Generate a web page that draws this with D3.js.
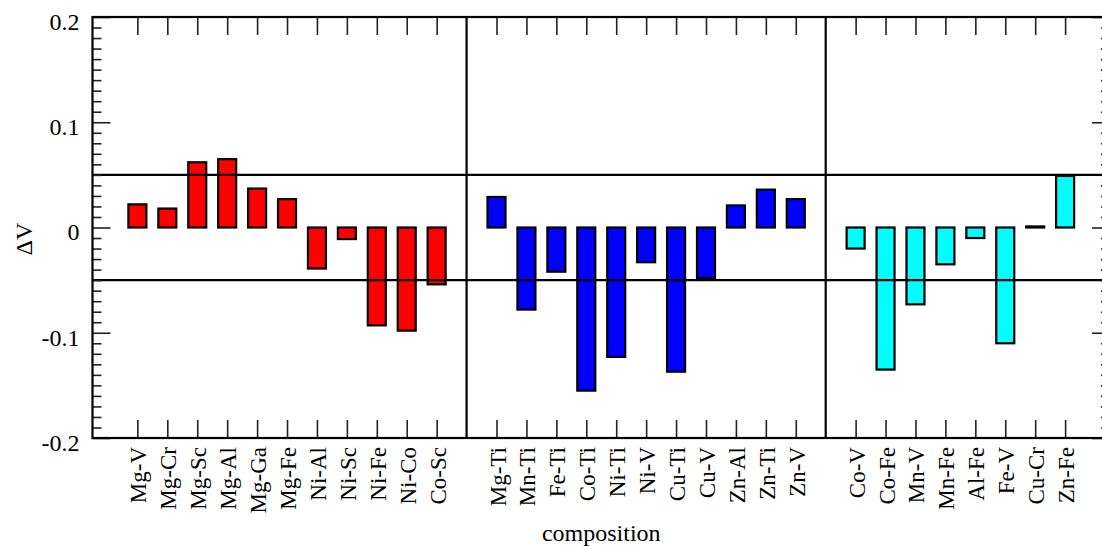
<!DOCTYPE html>
<html>
<head>
<meta charset="utf-8">
<script src="https://cdn.jsdelivr.net/npm/d3@7"></script>
<style>
  html, body { margin: 0; padding: 0; background: #fff; }
  svg { display: block; }
  text { font-family: "Liberation Serif", "Times New Roman", serif; fill: #000; }
</style>
</head>
<body>
<svg id="chart" width="1102" height="547"></svg>
<script>
// Volume change ΔV per binary composition, in three families
const groupA = ["Mg-V", "Mg-Cr", "Mg-Sc", "Mg-Al", "Mg-Ga", "Mg-Fe", "Ni-Al", "Ni-Sc", "Ni-Fe", "Ni-Co", "Co-Sc"];
const valuesA = [0.022, 0.018, 0.062, 0.065, 0.037, 0.027, -0.039, -0.011, -0.093, -0.098, -0.054];

const groupB = ["Mg-Ti", "Mn-Ti", "Fe-Ti", "Co-Ti", "Ni-Ti", "Ni-V", "Cu-Ti", "Cu-V", "Zn-Al", "Zn-Ti", "Zn-V"];
const valuesB = [0.029, -0.078, -0.042, -0.155, -0.123, -0.033, -0.137, -0.048, 0.021, 0.036, 0.027];

const groupC = ["Co-V", "Co-Fe", "Mn-V", "Mn-Fe", "Al-Fe", "Fe-V", "Cu-Cr", "Zn-Fe"];
const valuesC = [-0.020, -0.135, -0.073, -0.035, -0.010, -0.110, 0.001, 0.049];

const groupColors = ["#ff0000", "#0000ff", "#00ffff"];

const yTickValues = [-0.2, -0.1, 0, 0.1, 0.2];
const yTickLabels = ["-0.2", "-0.1", "0", "0.1", "0.2"];
const thresholdLines = [0.05, -0.05];

const xTitle = "composition";
const yTitle = "ΔV";

// Lay the groups out on one index axis, leaving an empty slot between groups
const groups = [
  { names: groupA, values: valuesA },
  { names: groupB, values: valuesB },
  { names: groupC, values: valuesC }
];
const bars = [];
const separators = [];
let slot = 0;
groups.forEach((g, gi) => {
  if (gi > 0) { separators.push(slot); slot += 1; }
  g.names.forEach((name, i) => {
    bars.push({ name, value: g.values[i], slot, color: groupColors[gi] });
    slot += 1;
  });
});
const lastSlot = slot - 1;

const plotLeft = 92.5, plotRight = 1110, plotTop = 17, plotBottom = 438;
const svg = d3.select("#chart");

const x = d3.scaleLinear().domain([-1.5, lastSlot + 1.5]).range([plotLeft, plotRight]);
const y = d3.scaleLinear().domain([-0.2, 0.2]).range([plotBottom, plotTop]);

const majorLen = 18, minorLen = 9, barW = 18;
const minorTicks = d3.range(-20, 21).filter(k => k % 10 !== 0).map(k => k / 100);

// bars
svg.append("g").selectAll("rect")
  .data(bars)
  .join("rect")
  .attr("x", d => x(d.slot) - barW / 2)
  .attr("width", barW)
  .attr("y", d => y(Math.max(d.value, 0)))
  .attr("height", d => Math.abs(y(d.value) - y(0)))
  .attr("fill", d => d.color)
  .attr("stroke", "#000")
  .attr("stroke-width", 2.2);

// horizontal reference lines at ±0.05
svg.append("g").selectAll("line")
  .data(thresholdLines)
  .join("line")
  .attr("x1", plotLeft).attr("x2", plotRight)
  .attr("y1", d => y(d)).attr("y2", d => y(d))
  .attr("stroke", "#000").attr("stroke-width", 2.2);

// vertical group separators
svg.append("g").selectAll("line")
  .data(separators)
  .join("line")
  .attr("x1", d => x(d)).attr("x2", d => x(d))
  .attr("y1", plotTop).attr("y2", plotBottom)
  .attr("stroke", "#000").attr("stroke-width", 2.2);

// axes (ticks point inward)
const slotsWithBars = bars.map(d => d.slot);
const tickStroke = "#222";

const gLeft = svg.append("g").attr("transform", `translate(${plotLeft},0)`)
  .call(d3.axisLeft(y).tickValues(yTickValues).tickSize(-majorLen).tickPadding(13)
    .tickFormat((d, i) => yTickLabels[i]));
gLeft.selectAll("text").attr("font-size", 24).attr("dy", "0.52em")
  .style("font-family", "'Liberation Serif', serif");

const gLeftMinor = svg.append("g").attr("transform", `translate(${plotLeft},0)`)
  .call(d3.axisLeft(y).tickValues(minorTicks).tickSize(-minorLen).tickFormat(""));

const gRight = svg.append("g").attr("transform", `translate(${plotRight},0)`)
  .call(d3.axisRight(y).tickValues(yTickValues).tickSize(-majorLen).tickFormat(""));
const gRightMinor = svg.append("g").attr("transform", `translate(${plotRight},0)`)
  .call(d3.axisRight(y).tickValues(minorTicks).tickSize(-minorLen).tickFormat(""));

const gTop = svg.append("g").attr("transform", `translate(0,${plotTop})`)
  .call(d3.axisTop(x).tickValues(slotsWithBars).tickSize(-majorLen).tickFormat(""));
const gBottom = svg.append("g").attr("transform", `translate(0,${plotBottom})`)
  .call(d3.axisBottom(x).tickValues(slotsWithBars).tickSize(-majorLen).tickFormat(""));

[gLeft, gLeftMinor, gRight, gRightMinor, gTop, gBottom].forEach(g => {
  g.select(".domain").remove();
  g.selectAll(".tick line").attr("stroke", tickStroke).attr("stroke-width", 1.6);
});

// frame
svg.append("rect")
  .attr("x", plotLeft).attr("y", plotTop)
  .attr("width", plotRight - plotLeft).attr("height", plotBottom - plotTop)
  .attr("fill", "none").attr("stroke", "#000").attr("stroke-width", 2.2);

// category labels, rotated
svg.append("g").selectAll("text")
  .data(bars)
  .join("text")
  .attr("transform", d => `translate(${x(d.slot) + 9},${plotBottom + 9}) rotate(-90)`)
  .attr("text-anchor", "end")
  .attr("font-size", 23)
  .text(d => d.name);

// axis titles
svg.append("text")
  .attr("x", (plotLeft + plotRight) / 2).attr("y", 541)
  .attr("text-anchor", "middle")
  .attr("font-size", 24)
  .text(xTitle);

svg.append("text")
  .attr("transform", `translate(32,239) rotate(-90)`)
  .attr("text-anchor", "middle")
  .attr("font-size", 24)
  .text(yTitle);
</script>
</body>
</html>
